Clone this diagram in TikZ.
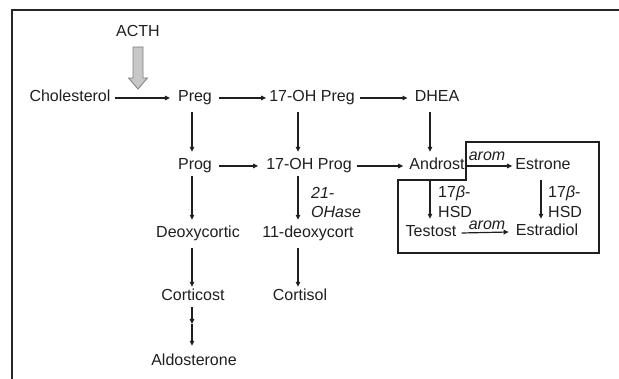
\documentclass[tikz,border=0pt]{standalone}
\usepackage{fontspec}
\setmainfont{Liberation Sans}
\usetikzlibrary{arrows.meta,calc}
\begin{document}
\begin{tikzpicture}[x=1pt,y=-1pt,
  lbl/.style={font=\fontsize{16}{18}\selectfont, inner sep=3pt, text height=11pt, text depth=3pt, text=black!88},
  sm/.style={font=\fontsize{16}{18}\selectfont, inner sep=0pt, anchor=west, text=black!88},
  arr/.style={line width=1.2pt, draw=black!88, -{Triangle[length=5pt,width=4.5pt]}},
  boxline/.style={line width=2pt, draw=black!88}]
\useasboundingbox (0,0) rectangle (619,379);
% frame
\draw[line width=1.2pt, black!85] (12,379) -- (12,10) -- (619,10);
% nodes
\node[lbl] (acth) at (138,33) {ACTH};
\node[lbl] (chol) at (70,98) {Cholesterol};
\node[lbl] (preg) at (195,98) {Preg};
\node[lbl] (ohpreg) at (312,98) {17-OH Preg};
\node[lbl] (dhea) at (437,98) {DHEA};
\node[lbl] (prog) at (195,166) {Prog};
\node[lbl] (ohprog) at (309,166) {17-OH Prog};
\node[lbl] (andr) at (437,166) {Androst};
\node[lbl] (estrone) at (543,166) {Estrone};
\node[lbl] (deoxyc) at (198,234) {Deoxycortic};
\node[lbl] (deoxy11) at (308,234) {11-deoxycort};
\node[lbl] (testo) at (431,233) {Testost};
\node[lbl] (estradiol) at (547,232) {Estradiol};
\node[lbl] (cortic) at (193,297) {Corticost};
\node[lbl] (cortisol) at (300,297) {Cortisol};
\node[lbl] (aldo) at (194,362) {Aldosterone};
% enzyme labels
\node[sm] (oh21a) at (311,193) {\textit{21-}};
\node[sm] (oh21b) at (311,212) {\textit{OHase}};
\node[sm] (hsda) at (438,193) {17\textit{β}-};
\node[sm] (hsdb) at (438,212) {HSD};
\node[sm] (hsdc) at (548,193) {17\textit{β}-};
\node[sm] (hsdd) at (548,212) {HSD};
% ACTH arrow
\draw[fill=black!22, draw=black!50, line width=0.8pt]
  (133,47) -- (143,47) -- (143,78) -- (147.5,78) -- (138,89) -- (128.5,78) -- (133,78) -- cycle;
% column coordinates
\coordinate (cA) at (192,0);
\coordinate (cB) at (298,0);
\coordinate (cC) at (430,0);
\coordinate (cD) at (541,0);
% box
\draw[boxline] (466,142) -- (599,142) -- (599,253) -- (398,253) -- (398,180) -- (466,180) -- cycle;
\coordinate (boxstep) at (466,166);
\coordinate (boxbottom) at (430,180);
% horizontal arrows
\draw[arr] (chol.east) ++(1,0) -- ($(preg.west)+(-5,0)$);
\draw[arr] ($(preg.east)+(4,0)$) -- (ohpreg.west);
\draw[arr] ($(ohpreg.east)+(2,0)$) -- ($(dhea.west)+(-4,0)$);
\draw[arr] ($(prog.east)+(4,0)$) -- ($(ohprog.west)+(-5,0)$);
\draw[arr] ($(ohprog.east)+(2,0)$) -- ($(andr.west)+(-3,0)$);
\draw[arr] (boxstep) -- ($(estrone.west)+(0,0)$);
\draw[arr] ($(testo.east)+(2,0)$) -- ($(estradiol.west)+(-4,0)$);
\node[sm, anchor=south] (arom1) at (487,161) {\textit{arom}};
\node[sm, anchor=south] (arom2) at (487,230) {\textit{arom}};
% vertical arrows
\draw[arr] ($(preg.south -| cA)+(0,4)$) -- ($(prog.north -| cA)+(0,-4)$);
\draw[arr] ($(ohpreg.south -| cB)+(0,4)$) -- ($(ohprog.north -| cB)+(0,-4)$);
\draw[arr] ($(dhea.south -| cC)+(0,4)$) -- ($(andr.north -| cC)+(0,-4)$);
\draw[arr] ($(prog.south -| cA)+(0,0)$) -- ($(deoxyc.north -| cA)+(0,-4)$);
\draw[arr] ($(ohprog.south -| cB)+(0,0)$) -- ($(deoxy11.north -| cB)+(0,-4)$);
\draw[arr] (boxbottom) -- ($(testo.north -| cC)+(0,-4)$);
\draw[arr] ($(estrone.south -| cD)+(0,4)$) -- ($(estradiol.north -| cD)+(0,-3)$);
\draw[arr] ($(deoxyc.south -| cA)+(0,4)$) -- ($(cortic.north -| cA)+(0,0)$);
\draw[arr] ($(deoxy11.south -| cB)+(0,4)$) -- ($(cortisol.north -| cB)+(0,0)$);
\coordinate (mid) at (192,324);
\draw[arr] ($(cortic.south -| cA)+(0,0)$) -- (mid);
\draw[arr] (mid) -- ($(aldo.north -| cA)+(0,-6)$);
\end{tikzpicture}
\end{document}
